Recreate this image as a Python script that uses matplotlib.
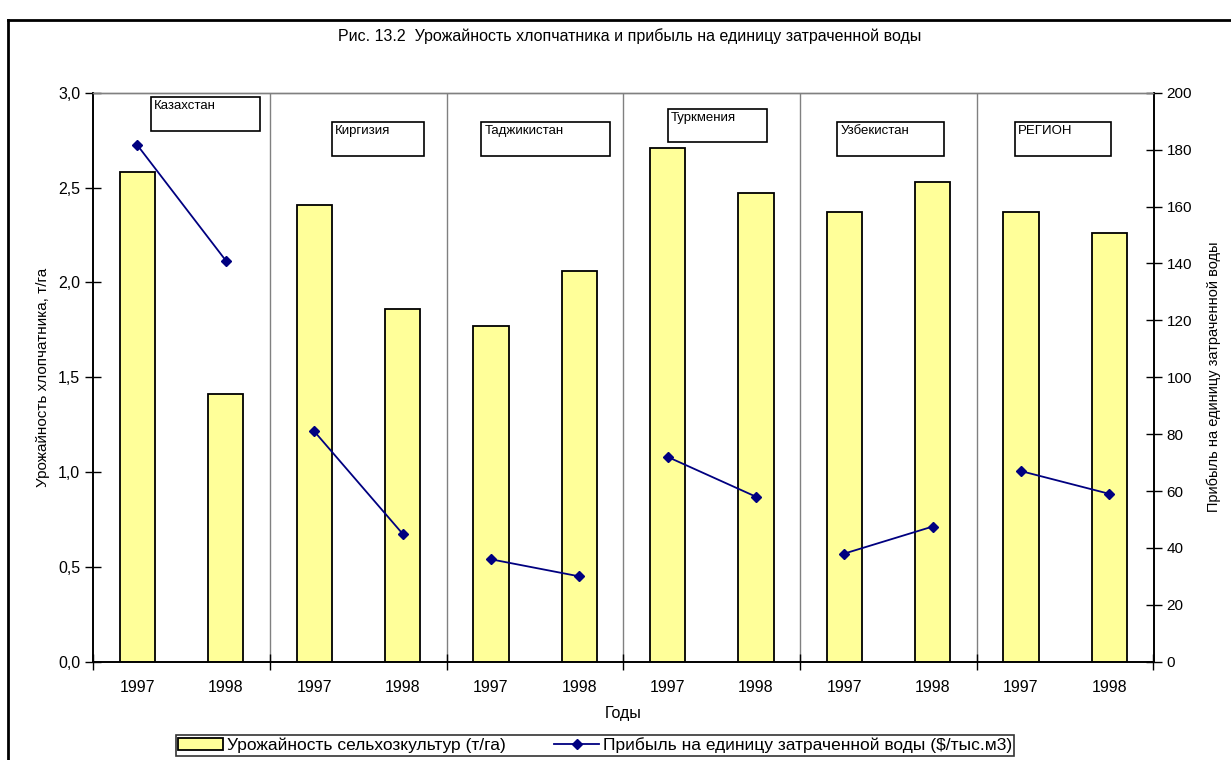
import numpy as np
import matplotlib
matplotlib.use('Agg')
import matplotlib.pyplot as plt
from matplotlib.patches import Rectangle
from matplotlib.lines import Line2D

plt.rcParams['font.family'] = ['Liberation Sans', 'DejaVu Sans']

# --- Data ---
countries = ['Казахстан', 'Киргизия', 'Таджикистан', 'Туркмения', 'Узбекистан', 'РЕГИОН']
years = ['1997', '1998']

# crop yield, t/ha (left axis)
yield_1997 = [2.58, 2.41, 1.77, 2.71, 2.37, 2.37]
yield_1998 = [1.41, 1.86, 2.06, 2.47, 2.53, 2.26]

# profit per unit of water used, $/thousand m3 (right axis)
profit_1997 = [181.5, 81.0, 36.0, 72.0, 38.0, 67.0]
profit_1998 = [141.0, 45.0, 30.0, 58.0, 47.5, 59.0]

TITLE = 'Рис. 13.2  Урожайность хлопчатника и прибыль на единицу затраченной воды'
YLABEL_LEFT = 'Урожайность хлопчатника, т/га'
YLABEL_RIGHT = 'Прибыль на единицу затраченной воды'
XLABEL = 'Годы'
LEGEND_BAR = 'Урожайность сельхозкультур (т/га)'
LEGEND_LINE = 'Прибыль на единицу затраченной воды ($/тыс.м3)'

# --- Layout (pixels) ---
W, H = 1231, 760
AX_L, AX_R, AX_T, AX_B = 93.3, 1153.5, 92.7, 661.7
# label boxes: x0, y0, x1, y1 (top-left origin)
LABEL_BOXES = [(150.7, 97.3, 260.3, 131.3),
               (332.3, 122.0, 424.0, 155.7),
               (481.3, 122.0, 610.3, 155.7),
               (667.7, 108.7, 767.3, 142.3),
               (837.3, 122.0, 944.3, 155.7),
               (1015.3, 122.0, 1111.3, 155.7)]

BAR_COLOR = '#FFFF99'
LINE_COLOR = '#000080'
GRID_COLOR = '#808080'

fig = plt.figure(figsize=(W / 100, H / 100), dpi=100)
ax = fig.add_axes([AX_L / W, 1 - AX_B / H, (AX_R - AX_L) / W, (AX_B - AX_T) / H])
ax2 = ax.twinx()

n = len(countries)
yields = []
for i in range(n):
    yields += [yield_1997[i], yield_1998[i]]
x = np.arange(2 * n) + 0.5

ax.bar(x, yields, width=0.4, color=BAR_COLOR, edgecolor='black', linewidth=1.3, zorder=3,
       label=LEGEND_BAR)

# profit lines, one segment per country
for i in range(n):
    xs = [2 * i + 0.5, 2 * i + 1.5]
    ax2.plot(xs, [profit_1997[i], profit_1998[i]], color=LINE_COLOR, lw=1.3,
             marker='D', ms=5.5, zorder=4, label=LEGEND_LINE if i == 0 else None)

# group separators
for k in range(2, 2 * n, 2):
    ax.axvline(k, color=GRID_COLOR, lw=1.0, zorder=1)

ax.set_xlim(0, 2 * n)
ax.set_ylim(0, 3.0)
ax2.set_ylim(0, 200)

ax.set_yticks(np.arange(0, 3.01, 0.5))
ax.set_yticklabels([f'{v:.1f}'.replace('.', ',') for v in np.arange(0, 3.01, 0.5)])
ax2.set_yticks(np.arange(0, 201, 20))

ax.set_xticks(np.arange(0, 2 * n + 1, 2))
ax.set_xticklabels([])
ax.set_xticks(x, minor=True)
ax.set_xticklabels(years * n, minor=True)
ax.tick_params(axis='x', which='major', direction='inout', length=11, width=1)
ax.tick_params(axis='x', which='minor', length=0, pad=13, labelsize=11.5)
ax.tick_params(axis='y', direction='inout', length=11, width=1, labelsize=11.5, pad=4)
ax2.tick_params(axis='y', direction='inout', length=11, width=1, labelsize=11, pad=4)

for a in (ax, ax2):
    a.spines['top'].set_color(GRID_COLOR)
    a.spines['top'].set_linewidth(1.0)
    a.spines['left'].set_linewidth(1.2)
    a.spines['right'].set_linewidth(1.2)
    a.spines['bottom'].set_linewidth(1.2)

ax.set_xlabel(XLABEL, fontsize=11.5, labelpad=8)
ax.set_ylabel(YLABEL_LEFT, fontsize=11, labelpad=6)
ax2.set_ylabel(YLABEL_RIGHT, fontsize=10.5, labelpad=10)

fig.text(630 / W, 1 - 36 / H, TITLE, ha='center', va='center', fontsize=11.5)

# country label boxes
for name, (x0, y0, x1, y1) in zip(countries, LABEL_BOXES):
    fig.add_artist(Rectangle((x0 / W, 1 - y1 / H), (x1 - x0) / W, (y1 - y0) / H,
                             transform=fig.transFigure, facecolor='white',
                             edgecolor='black', lw=1.2, zorder=5))
    fig.text((x0 + 3) / W, 1 - (y0 + 3) / H, name, ha='left', va='top',
             fontsize=9.5, zorder=6)

# legend
h1, l1 = ax.get_legend_handles_labels()
h2, l2 = ax2.get_legend_handles_labels()
leg = fig.legend(h1 + h2, l1 + l2, loc='center', bbox_to_anchor=(595 / W, 1 - 745.5 / H),
                 ncol=2, fontsize=12.5, frameon=True, fancybox=False,
                 edgecolor='black', borderpad=0.15, handlelength=2.6,
                 handletextpad=0.2, columnspacing=2.8, borderaxespad=0)
leg.get_frame().set_linewidth(1.2)

# outer frame of the chart area
fig.add_artist(Line2D([8 / W, 8 / W], [0, 1 - 20 / H], color='black', lw=2,
                      transform=fig.transFigure))
fig.add_artist(Line2D([8 / W, 1], [1 - 20 / H, 1 - 20 / H], color='black', lw=2,
                      transform=fig.transFigure))

fig.savefig('out.png', dpi=100)
